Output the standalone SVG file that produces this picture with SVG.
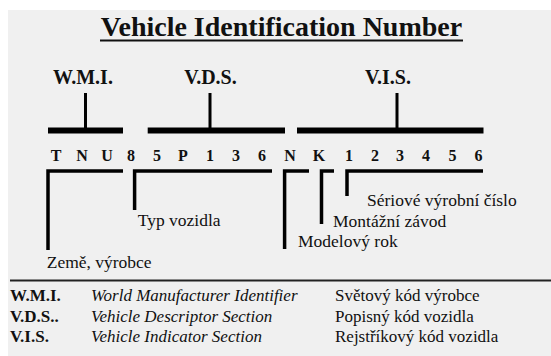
<svg xmlns="http://www.w3.org/2000/svg" width="551" height="356" viewBox="0 0 551 356">
<style>
text{font-family:'Liberation Serif','Times New Roman','DejaVu Serif',serif;fill:#111}
.title{font-size:28px;font-weight:bold}
.lab{font-size:20px;font-weight:bold}
.ch{font-size:16px;font-weight:bold;text-anchor:middle}
.d{font-size:17.5px}
.lg{font-size:17px}
.b{font-weight:bold}
.i{font-style:italic}
.bar{stroke:#000;stroke-width:6;fill:none}
.stem{stroke:#000;stroke-width:3;fill:none}
.br{stroke:#000;stroke-width:3.5;fill:none}
</style>
<rect x="0" y="0" width="551" height="356" fill="#ffffff"/>
<rect x="8" y="10" width="543" height="346" fill="#f0f0f0"/>
<g id="title">
<text class="title" x="281.5" y="36" text-anchor="middle">Vehicle Identification Number</text>
<line x1="100" y1="40.5" x2="463" y2="40.5" stroke="#111" stroke-width="2"/>
</g>
<g id="wmi"><text class="lab" x="83" y="84" text-anchor="middle">W.M.I.</text></g>
<g id="vds"><text class="lab" x="210.5" y="84" text-anchor="middle">V.D.S.</text></g>
<g id="vis"><text class="lab" x="388" y="84" text-anchor="middle">V.I.S.</text></g>
<g id="connectors">
<line class="bar" x1="48" y1="130.5" x2="123" y2="130.5"/>
<line class="bar" x1="147.7" y1="130.5" x2="285" y2="130.5"/>
<line class="bar" x1="297" y1="130.5" x2="483.5" y2="130.5"/>
<line class="stem" x1="85.5" y1="93" x2="85.5" y2="128"/>
<line class="stem" x1="210" y1="93" x2="210" y2="128"/>
<line class="stem" x1="397" y1="93" x2="397" y2="128"/>
<path class="br" d="M123,171 H48 V250"/>
<path class="br" d="M272,171 H134.6 V210"/>
<path class="br" d="M309,171 H284.6 V249"/>
<path class="br" d="M334,171 H321.5 V224"/>
<path class="br" d="M483,171 H347 V196"/>
</g>
<g id="vin">
<text class="ch" x="56" y="161">T</text>
<text class="ch" x="82" y="161">N</text>
<text class="ch" x="107" y="161">U</text>
<text class="ch" x="131" y="161">8</text>
<text class="ch" x="157" y="161">5</text>
<text class="ch" x="183" y="161">P</text>
<text class="ch" x="210" y="161">1</text>
<text class="ch" x="236" y="161">3</text>
<text class="ch" x="262" y="161">6</text>
<text class="ch" x="290" y="161">N</text>
<text class="ch" x="319" y="161">K</text>
<text class="ch" x="349" y="161">1</text>
<text class="ch" x="375" y="161">2</text>
<text class="ch" x="400" y="161">3</text>
<text class="ch" x="426" y="161">4</text>
<text class="ch" x="452.5" y="161">5</text>
<text class="ch" x="478.5" y="161">6</text>
</g>
<g id="zeme"><text class="d" x="46.7" y="267.5">Země, výrobce</text></g>
<g id="typ"><text class="d" x="137.7" y="225.5">Typ vozidla</text></g>
<g id="model"><text class="d" x="298" y="247">Modelový rok</text></g>
<g id="montaz"><text class="d" x="333" y="227">Montážní závod</text></g>
<g id="serie"><text class="d" x="367" y="206">Sériové výrobní číslo</text></g>
<g id="legend">
<line x1="10" y1="280.5" x2="551" y2="280.5" stroke="#222" stroke-width="2"/>
<text class="lg b" x="10" y="301">W.M.I.</text>
<text class="lg i" x="91" y="301">World Manufacturer Identifier</text>
<text class="lg" x="335" y="301">Světový kód výrobce</text>
<text class="lg b" x="10" y="321.5">V.D.S..</text>
<text class="lg i" x="91" y="321.5">Vehicle Descriptor Section</text>
<text class="lg" x="335" y="321.5">Popisný kód vozidla</text>
<text class="lg b" x="10" y="341.5">V.I.S.</text>
<text class="lg i" x="91" y="341.5">Vehicle Indicator Section</text>
<text class="lg" x="335" y="341.5">Rejstříkový kód vozidla</text>
</g>
</svg>
